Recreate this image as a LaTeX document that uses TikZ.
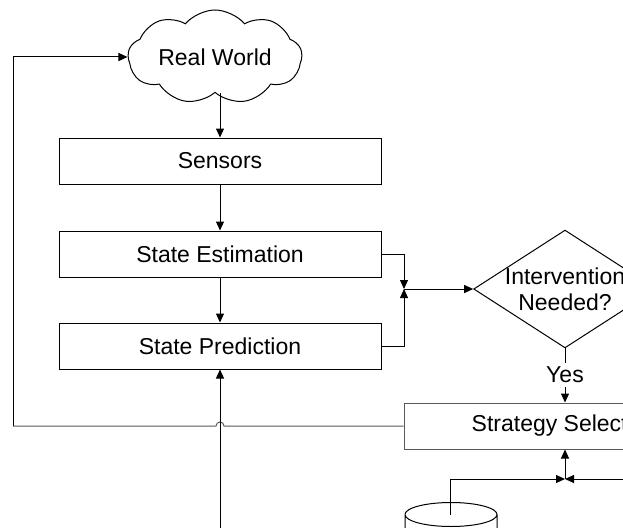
\documentclass[tikz,border=0pt]{standalone}
\usepackage{fontspec}
\setmainfont{Liberation Sans}
\usetikzlibrary{shapes.geometric,shapes.symbols,arrows.meta}

\tikzset{
  stage/.style={draw, minimum width=322pt, minimum height=46pt},
  decision/.style={diamond, draw, align=center, shape aspect=1.55, inner xsep=-2pt, inner ysep=0pt},
  store/.style={cylinder, draw, shape border rotate=90, aspect=3.6, minimum width=92pt, minimum height=90pt},
  faint/.style={draw=black!65},
}

\begin{document}
\begin{tikzpicture}[x=1pt, y=-1pt, line width=1pt, font=\fontsize{23}{26}\selectfont,
  >={Triangle[length=9pt,width=8pt]}]
  \useasboundingbox (0,0) rectangle (623,527);
  \clip (0,0) rectangle (623,527);

  \node[cloud, draw, cloud puffs=9, cloud puff arc=100, aspect=2.2, inner sep=0pt,
    minimum width=174pt, minimum height=86pt] (world) at (215,57) {Real World};
  \node[stage] (sensors) at (220,161) {Sensors};
  \node[stage] (estimation) at (220,254) {State Estimation};
  \node[stage] (prediction) at (220,346) {State Prediction};
  \node[decision] (check) at (565,289) {Intervention\\Needed?};
  \node (yes) at (565,375) {Yes};
  \node[stage, faint] (strategy) at (565,426) {Strategy Selection};
  \node[store, anchor=top] (database) at (451,502) {};

  \coordinate (merge) at (404,289);
  \coordinate (join) at (565,479);
  \coordinate (dbtop) at (450,515);
  \coordinate (offright) at (650,479);
  \coordinate (hop) at (224,426);
  \coordinate (corner) at (13,426);
  \coordinate (below) at (220,540);

  % main chain
  \draw[->] (sensors.north |- world.south) -- (sensors);
  \draw[->] (sensors) -- (estimation);
  \draw[->] (estimation) -- (prediction);

  % merge into the check
  \draw[->] (estimation.east) -| (merge);
  \draw[->] (prediction.east) -| (merge);
  \draw[->] (merge) -- (check);
  \draw (check) -- (yes);
  \draw[->] (yes) -- (strategy);

  % loop back to the world
  \draw[faint] (strategy.west) -- (hop) arc[start angle=0, end angle=-180, radius=4] -- (corner);
  \draw[->] (corner) |- (world.west);

  % inputs below
  \draw[->] (dbtop) |- (join);
  \draw[->] (offright) -- (join);
  \draw[->] (join) -- (strategy);
  \draw[->] (below) -- (prediction);
\end{tikzpicture}
\end{document}
